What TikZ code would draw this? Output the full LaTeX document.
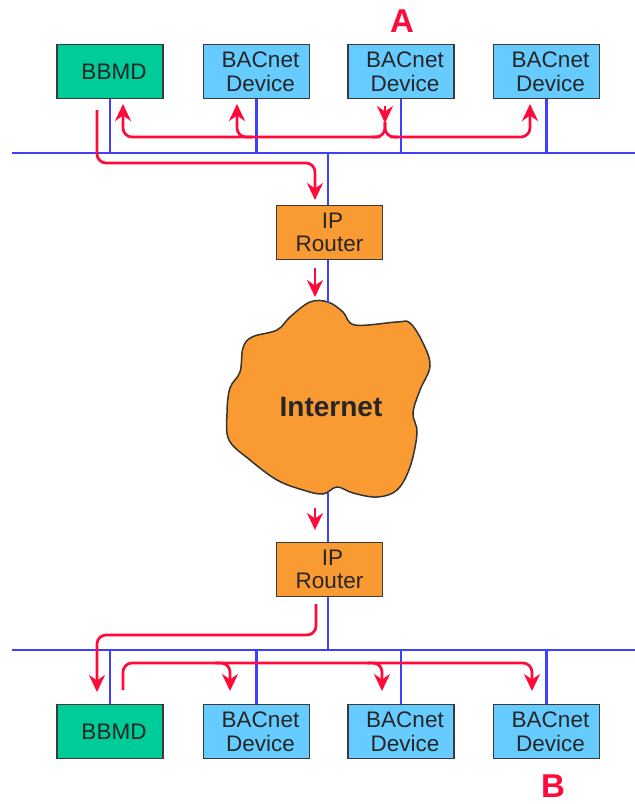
\documentclass[tikz,border=0pt]{standalone}
\usepackage{fontspec}
\setmainfont{Liberation Sans}
\usetikzlibrary{arrows.meta}
\definecolor{bbmdgreen}{HTML}{00CC99}
\definecolor{devblue}{HTML}{66CCFF}
\definecolor{routerorange}{HTML}{F99A33}
\definecolor{boxline}{HTML}{3A3A3A}
\definecolor{busblue}{HTML}{3F3FFF}
\definecolor{flowred}{HTML}{FF0A3A}
\tikzset{
  box/.style={draw=boxline, line width=1.4pt, minimum width=106pt, minimum height=54pt,
    inner sep=0pt, align=center, text=black!85, font=\fontsize{22.5}{23.5}\selectfont},
  bbmdbox/.style={box, fill=bbmdgreen},
  devbox/.style={box, fill=devblue},
  routerbox/.style={box, fill=routerorange},
  bus/.style={busblue, line width=2.4pt},
  flow/.style={flowred, line width=2.7pt, rounded corners=9pt},
  flowtip/.style={-{Stealth[length=17pt,width=16pt,inset=5.5pt]}},
  sitelabel/.style={text=flowred, font=\fontsize{33}{33}\selectfont\bfseries},
}
\begin{document}
\begin{tikzpicture}[x=1pt,y=-1pt]
\useasboundingbox (0,0) rectangle (635,804);

% ---------- site A ----------
\coordinate (busAL) at (12,153);
\coordinate (busAR) at (635,153);
\draw[bus] (busAL) -- (busAR);

\node[bbmdbox] (bbmdA) at (110,71.5) {\hspace*{8pt}BBMD};
\node[devbox] (devA1) at (256.5,71.5) {\hspace*{8pt}BACnet\\\hspace*{8pt}Device};
\node[devbox] (devA2) at (401,71.5) {\hspace*{8pt}BACnet\\\hspace*{8pt}Device};
\node[devbox] (devA3) at (546.5,71.5) {\hspace*{8pt}BACnet\\\hspace*{8pt}Device};
\node[sitelabel] (labA) at (402,21) {A};

\foreach \n in {bbmdA,devA1,devA2,devA3}
  \draw[bus] (\n.south) -- (\n.south |- busAL);

% ---------- routers and Internet ----------
\node[routerbox] (rtrA) at (329.5,232.5) {\hspace*{6pt}IP\\Router};
\node[routerbox] (rtrB) at (329.5,569.5) {\hspace*{6pt}IP\\Router};

\filldraw[fill=routerorange, draw=black!80, line width=1.5pt]
  plot[smooth cycle, tension=0.6] coordinates {
    (328,302) (310,302) (290,317) (277,330) (252,337) (243,348) (240,372)
    (230,388) (227,413) (229,440) (250,460) (277,480) (303,490) (323,494)
    (337,487) (353,493) (377,497) (397,490) (410,467) (417,433) (413,413)
    (420,390) (430,366) (423,343) (410,323) (397,322) (355,325) (343,312)};
\node[font=\fontsize{28}{28}\selectfont\bfseries, text=black!85] (inet) at (331,407) {Internet};
\coordinate (cloudtop) at (328,303);
\coordinate (cloudbot) at (328,493);

\draw[bus] (rtrA.north -| cloudtop) -- (cloudtop |- busAL);
\draw[bus] (rtrA.south -| cloudtop) -- (cloudtop);
\draw[bus] (cloudbot) -- (rtrB.north -| cloudbot);

% ---------- site B ----------
\coordinate (busBL) at (12,650);
\coordinate (busBR) at (635,650);
\draw[bus] (busBL) -- (busBR);
\draw[bus] (rtrB.south -| cloudbot) -- (cloudbot |- busBL);

\node[bbmdbox] (bbmdB) at (110,731.5) {\hspace*{8pt}BBMD};
\node[devbox] (devB1) at (256.5,731.5) {\hspace*{8pt}BACnet\\\hspace*{8pt}Device};
\node[devbox] (devB2) at (401,731.5) {\hspace*{8pt}BACnet\\\hspace*{8pt}Device};
\node[devbox] (devB3) at (546.5,731.5) {\hspace*{8pt}BACnet\\\hspace*{8pt}Device};
\node[sitelabel] (labB) at (553,786) {B};

\foreach \n in {bbmdB,devB1,devB2,devB3}
  \draw[bus] (\n.north) -- (\n.north |- busBL);

% ---------- broadcast flow at site A ----------
% device A2 originates the broadcast
\draw[flow] (372,137) -- (385,137) -- (385,122);
\draw[flow] (398,137) -- (385,137) -- (385,122);
\draw[flow, flowtip] (385,106) -- (385,123);
\draw[flow, flowtip] (390,137) -- (530,137) -- (530,104);
\draw[flow, flowtip] (380,137) -- (123,137) -- (123,104);
\draw[flow, flowtip] (252,137) -- (237,137) -- (237,104);

% BBMD A forwards to the router
\draw[flow, flowtip] (97,110) -- (97,163) -- (315,163) -- (315,200);
\draw[flow, flowtip] (315,268) -- (315,297);

% ---------- flow at site B ----------
\draw[flow, flowtip] (315,508) -- (315,530);
\draw[flow, flowtip] (316,604) -- (316,635) -- (97,635) -- (97,692);
% BBMD B re-broadcasts on the local network
\draw[flow, flowtip] (123,690) -- (123,663) -- (532,663) -- (532,691);
\draw[flow, flowtip] (215,663) -- (230,663) -- (230,691);
\draw[flow, flowtip] (367,663) -- (382,663) -- (382,691);
\end{tikzpicture}
\end{document}
